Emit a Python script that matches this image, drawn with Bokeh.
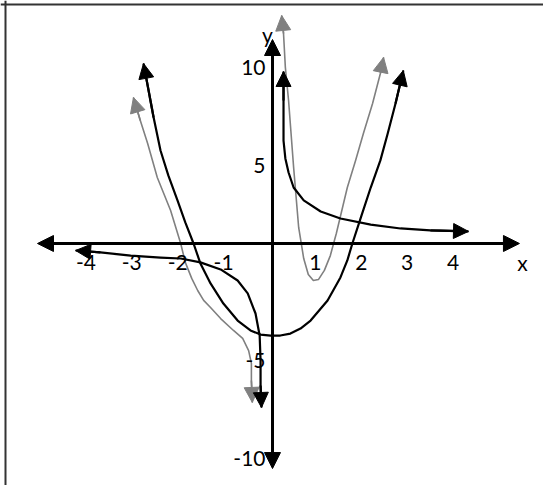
from bokeh.plotting import figure
from bokeh.models import ColumnDataSource, Arrow, NormalHead, Span, Range1d
from bokeh.core.properties import value
from bokeh.embed import file_html
from bokeh.resources import INLINE

# ---- data ----
# black parabola
par_x = [-2.81, -2.59, -2.44, -2.27, -2.07, -1.90, -1.72, -1.57, -1.35, -1.07, -0.76, -0.48,
         -0.26, -0.04, 0.17, 0.39, 0.61, 0.83, 1.20, 1.48, 1.63, 1.74, 1.94, 2.14, 2.35, 2.51, 2.68, 2.85]
par_y = [9.23, 6.46, 4.77, 3.49, 2.21, 1.08, 0.0, -1.03, -2.05, -3.08, -3.95, -4.46,
         -4.67, -4.72, -4.72, -4.62, -4.36, -3.95, -2.92, -1.74, -0.87, 0.0, 1.44, 2.87, 4.26, 5.64, 7.18, 8.87]

# grey curve, left branch
gl_x = [-3.03, -2.88, -2.72, -2.51, -2.22, -2.00, -1.90, -1.76, -1.63, -1.50, -1.35, -1.13,
        -0.85, -0.65, -0.52, -0.46, -0.46, -0.44]
gl_y = [7.49, 6.31, 5.13, 3.38, 1.69, 0.0, -0.97, -1.79, -2.41, -2.92, -3.28, -3.85,
        -4.46, -4.87, -5.49, -6.15, -7.03, -8.15]

# grey curve, right branch
gr_x = [0.20, 0.24, 0.28, 0.35, 0.46, 0.57, 0.68, 0.78, 0.89, 1.00, 1.13, 1.26, 1.39,
        1.63, 1.81, 1.98, 2.18, 2.35, 2.42]
gr_y = [11.69, 10.77, 9.03, 7.33, 3.90, 0.82, -0.77, -1.59, -1.90, -1.85, -1.38, -0.62, 0.51,
        2.87, 4.26, 5.64, 7.18, 8.72, 9.54]

# black hyperbola-like curve, left branch
hl_x = [-4.29, -3.75, -3.09, -2.44, -2.00, -1.57, -1.13, -0.76, -0.54, -0.37, -0.28, -0.26, -0.26, -0.24]
hl_y = [-0.36, -0.46, -0.62, -0.72, -0.77, -0.97, -1.33, -1.90, -2.56, -3.59, -4.72, -6.00, -7.28, -8.41]

# black hyperbola-like curve, right branch
hr_x = [0.24, 0.24, 0.24, 0.28, 0.35, 0.46, 0.68, 1.05, 1.48, 2.14, 2.79, 3.44, 4.27]
hr_y = [8.82, 7.33, 5.28, 4.36, 3.64, 2.87, 2.21, 1.64, 1.28, 0.97, 0.77, 0.67, 0.62]

x_ticks = [-4, -3, -2, -1, 1, 2, 3, 4]
y_ticks = [10, 5, -5, -10]
x_axis_ext = [-5.12, 5.38]
y_axis_ext = [-11.54, 10.46]

BLACK = "#000000"
GREY = "#808080"
FONT = value("Lato")

p = figure(width=543, height=485, x_range=Range1d(-5.926, 5.904), y_range=Range1d(-12.41, 12.46),
           output_backend="svg", toolbar_location=None, min_border=0,
           x_axis_location=None, y_axis_location=None)
p.grid.visible = False
p.outline_line_color = None
p.background_fill_color = "white"

# frame lines (top and left) of the drawing box
p.add_layout(Span(location=12.26, dimension="width", line_color="#333333", line_width=2))
p.add_layout(Span(location=-5.817, dimension="height", line_color="#333333", line_width=2))

# axes with arrowheads
p.add_layout(Arrow(start=NormalHead(size=16, fill_color=BLACK, line_color=BLACK, line_width=1),
                   end=NormalHead(size=16, fill_color=BLACK, line_color=BLACK, line_width=1),
                   x_start=x_axis_ext[0], y_start=0, x_end=x_axis_ext[1], y_end=0,
                   line_color=BLACK, line_width=3))
p.add_layout(Arrow(start=NormalHead(size=16, fill_color=BLACK, line_color=BLACK, line_width=1),
                   end=NormalHead(size=16, fill_color=BLACK, line_color=BLACK, line_width=1),
                   x_start=0, y_start=y_axis_ext[0], x_end=0, y_end=y_axis_ext[1],
                   line_color=BLACK, line_width=3))


def curve(xs, ys, color, width):
    p.line(xs, ys, line_color=color, line_width=width, line_join="round")
    for i0, i1 in [(1, 0), (-2, -1)]:
        p.add_layout(Arrow(end=NormalHead(size=15, fill_color=color, line_color=color, line_width=1),
                           x_start=xs[i0], y_start=ys[i0], x_end=xs[i1], y_end=ys[i1],
                           line_color=color, line_width=width))


curve(gl_x, gl_y, GREY, 1.6)
curve(gr_x, gr_y, GREY, 1.6)
curve(par_x, par_y, BLACK, 2.2)
curve(hl_x, hl_y, BLACK, 2.2)
curve(hr_x, hr_y, BLACK, 2.2)

# tick labels
xs_src = ColumnDataSource(dict(x=x_ticks, y=[0] * len(x_ticks), t=[str(v) for v in x_ticks]))
p.text(x="x", y="y", text="t", source=xs_src, text_font=FONT, text_font_size="21px",
       text_align="center", text_baseline="middle", x_offset=-3, y_offset=19, text_color=BLACK)
ys_src = ColumnDataSource(dict(x=[0] * len(y_ticks), y=y_ticks, t=[str(v) for v in y_ticks]))
p.text(x="x", y="y", text="t", source=ys_src, text_font=FONT, text_font_size="21px",
       text_align="right", text_baseline="middle", x_offset=-7, y_offset=19.5, text_color=BLACK)

# axis names
p.text(x=[x_axis_ext[1]], y=[0], text=["x"], text_font=FONT, text_font_size="21px",
       text_align="center", text_baseline="middle", x_offset=3, y_offset=19, text_color=BLACK)
p.text(x=[0], y=[y_axis_ext[1]], text=["y"], text_font=FONT, text_font_size="21px",
       text_align="center", text_baseline="middle", x_offset=-5, y_offset=-5, text_color=BLACK)

open("out.html", "w").write(file_html(p, INLINE))
